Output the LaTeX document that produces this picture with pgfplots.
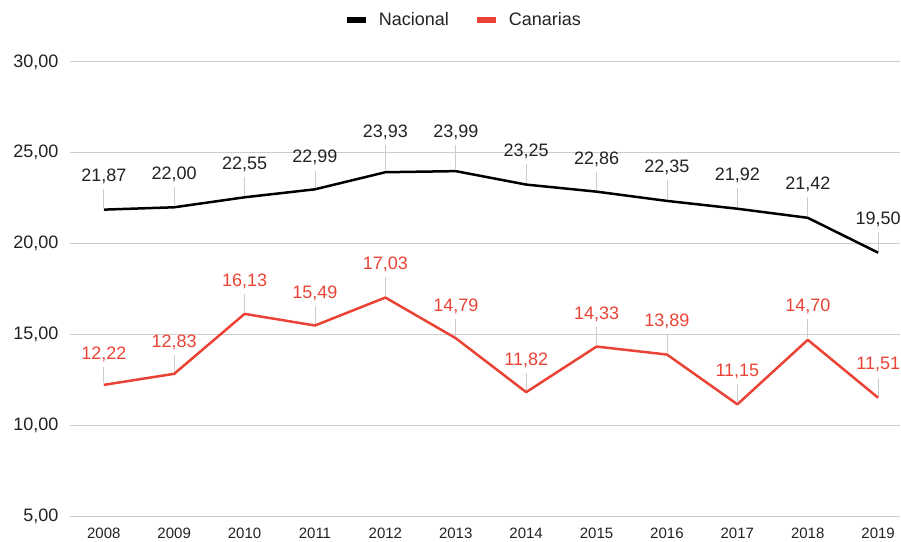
\documentclass[border=0pt]{standalone}
\usepackage{fontspec}
\setmainfont{Liberation Sans}
\usepackage{pgfplots}
\usepackage{pgfplotstable}
\pgfplotsset{compat=1.18}
\definecolor{gred}{HTML}{EA4335}
\definecolor{gridc}{HTML}{CCCCCC}
\definecolor{txt}{HTML}{222222}
\pgfplotstableread{
x y d
2008 21.87 19
2009 22.00 18.5
2010 22.55 18.5
2011 22.99 17
2012 23.93 25
2013 23.99 24.5
2014 23.25 19
2015 22.86 18
2016 22.35 19
2017 21.92 18.5
2018 21.42 19
2019 19.50 18.5
}\nacional
\pgfplotstableread{
x y d
2008 12.22 16
2009 12.83 17
2010 16.13 18.5
2011 15.49 17.5
2012 17.03 18.5
2013 14.79 17.5
2014 11.82 17.5
2015 14.33 17.5
2016 13.89 18.5
2017 11.15 18.5
2018 14.70 19.5
2019 11.51 18.5
}\canarias
\begin{document}
\begin{tikzpicture}[x=1pt,y=1pt]
\useasboundingbox (0,0) rectangle (901,541);
\begin{axis}[
  at={(70pt,25pt)}, anchor=south west,
  scale only axis, width=830pt, height=454pt,
  xmin=2007.52, xmax=2019.31, ymin=5, ymax=30,
  ytick={5,10,...,30}, xtick={2008,...,2019},
  axis line style={draw=none},
  tick style={draw=none},
  ymajorgrids, grid style={gridc, line width=1pt},
  clip=false,
  yticklabel style={font=\fontsize{18}{20}\selectfont, text=txt, xshift=-8pt,
    /pgf/number format/.cd, fixed, zerofill, precision=2, use comma, assume math mode=true},
  xticklabel style={font=\fontsize{15}{17}\selectfont, text=txt, yshift=-8pt,
    /pgf/number format/.cd, 1000 sep={}, assume math mode=true},
  legend style={at={(0.474,1.0925)}, anchor=center, draw=none, fill=none,
    font=\fontsize{18}{20}\selectfont, text=txt,
    /tikz/every odd column/.append style={column sep=8pt},
    /tikz/every even column/.append style={column sep=23pt}},
  legend columns=2,
  legend image code/.code={\draw[#1, line width=6pt, line cap=butt] (0pt,0pt) -- (19pt,0pt);},
  point meta=y,
]
\addplot[black, line width=2.5pt, line join=round,
  visualization depends on={\thisrow{d} \as \pd},
  nodes near coords={},
  every node near coord/.style={inner sep=0pt, anchor=center,
    pin={[pin distance=\pd pt, pin edge={gridc, line width=0.8pt}, font=\fontsize{18}{20}\selectfont, text=txt, inner sep=4pt]90:{\pgfmathprintnumber[fixed,zerofill,precision=2,use comma,assume math mode=true]{\pgfplotspointmeta}}}}
] table[x=x,y=y] {\nacional};
\addlegendentry{Nacional}
\addplot[gred, line width=2.5pt, line join=round,
  visualization depends on={\thisrow{d} \as \pd},
  nodes near coords={},
  every node near coord/.style={inner sep=0pt, anchor=center,
    pin={[pin distance=\pd pt, pin edge={gridc, line width=0.8pt}, font=\fontsize{18}{20}\selectfont, text=gred, inner sep=4pt]90:{\pgfmathprintnumber[fixed,zerofill,precision=2,use comma,assume math mode=true]{\pgfplotspointmeta}}}}
] table[x=x,y=y] {\canarias};
\addlegendentry{Canarias}
\end{axis}
\end{tikzpicture}
\end{document}
